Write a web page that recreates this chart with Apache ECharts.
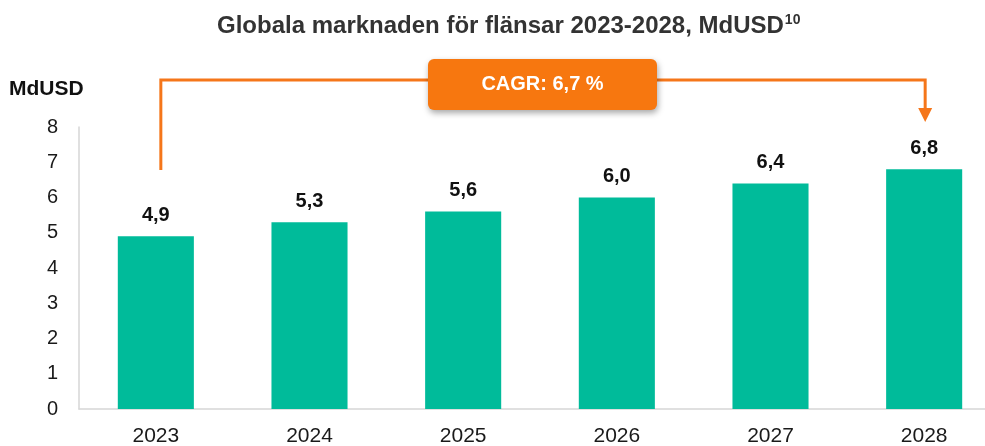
<!DOCTYPE html>
<html lang="sv">
<head>
<meta charset="UTF-8">
<script src="https://cdn.jsdelivr.net/npm/echarts@6/dist/echarts.min.js"></script>
<style>
  html, body { margin: 0; padding: 0; background: #fff; }
  #chart { width: 985px; height: 446px; }
</style>
</head>
<body>
<div id="chart"></div>
<script>
// data
var years = ['2023', '2024', '2025', '2026', '2027', '2028'];
var marketValues = [4.9, 5.3, 5.6, 6.0, 6.4, 6.8];
var cagrText = 'CAGR: 6,7 %';

var FONT = '"Liberation Sans", Arial, sans-serif';
var ORANGE = '#f5761a';

var chart = echarts.init(document.getElementById('chart'));

var option = {
  animation: false,
  textStyle: { fontFamily: FONT },
  title: {
    text: '{t|Globala marknaden för flänsar 2023-2028, MdUSD}{s|10}',
    left: 212,
    top: 8,
    textStyle: {
      rich: {
        t: { fontFamily: FONT, fontSize: 24, fontWeight: 'bold', color: '#333' },
        s: { fontFamily: FONT, fontSize: 14, fontWeight: 'bold', color: '#333', verticalAlign: 'top', padding: [0, 0, 12, 1] }
      }
    }
  },
  grid: { left: 79, top: 127, right: -16, bottom: 37, containLabel: false, outerBoundsMode: 'none' },
  xAxis: {
    type: 'category',
    data: years,
    axisTick: { show: false },
    axisLine: { lineStyle: { color: '#d6d6d6', width: 1.5 } },
    axisLabel: { color: '#1a1a1a', fontSize: 21, margin: 17, fontFamily: FONT }
  },
  yAxis: {
    type: 'value',
    min: 0,
    max: 8,
    interval: 1,
    name: 'MdUSD',
    nameLocation: 'end',
    nameGap: 27,
    nameTextStyle: { color: '#111', fontSize: 21, fontWeight: 'bold', align: 'left', padding: [0, 0, 0, -70], fontFamily: FONT },
    axisLine: { show: true, lineStyle: { color: '#d6d6d6', width: 1.5 } },
    axisTick: { show: false },
    splitLine: { show: false },
    axisLabel: { color: '#1a1a1a', fontSize: 20, margin: 21, fontFamily: FONT }
  },
  series: [{
    type: 'bar',
    data: marketValues,
    barWidth: '49.5%',
    itemStyle: { color: '#00bb9a' },
    label: {
      show: true,
      position: 'top',
      distance: 11,
      color: '#111',
      fontSize: 20,
      fontWeight: 'bold',
      fontFamily: FONT,
      formatter: function (p) { return p.value.toFixed(1).replace('.', ','); }
    }
  }]
};
chart.setOption(option);

// CAGR bracket placed from the axis scale
var first = chart.convertToPixel({ gridIndex: 0 }, [0, 0]);
var last = chart.convertToPixel({ gridIndex: 0 }, [years.length - 1, 0]);
var x1 = first[0] + 5, x2 = last[0] + 1;
var yTop = 80, yLeftEnd = 170, yArrowTip = 122;
var boxW = 229, boxH = 51, boxX = 428, boxY = 59;

chart.setOption({
  graphic: [
    {
      type: 'polyline',
      shape: { points: [[x1, yLeftEnd], [x1, yTop], [x2, yTop], [x2, yArrowTip - 12]] },
      style: { stroke: ORANGE, lineWidth: 3, fill: null },
      z: 10
    },
    {
      type: 'polygon',
      shape: { points: [[x2 - 7, yArrowTip - 14], [x2 + 7, yArrowTip - 14], [x2, yArrowTip]] },
      style: { fill: ORANGE },
      z: 10
    },
    {
      type: 'rect',
      shape: { x: boxX, y: boxY, width: boxW, height: boxH, r: 6 },
      style: { fill: '#f7770f', shadowBlur: 6, shadowOffsetX: 1, shadowOffsetY: 3, shadowColor: 'rgba(0,0,0,0.35)' },
      z: 11
    },
    {
      type: 'text',
      x: boxX + boxW / 2,
      y: boxY + boxH / 2,
      style: {
        text: cagrText,
        fill: '#fff',
        fontSize: 20,
        fontWeight: 'bold',
        fontFamily: FONT,
        align: 'center',
        verticalAlign: 'middle'
      },
      z: 12
    }
  ]
});
</script>
</body>
</html>
